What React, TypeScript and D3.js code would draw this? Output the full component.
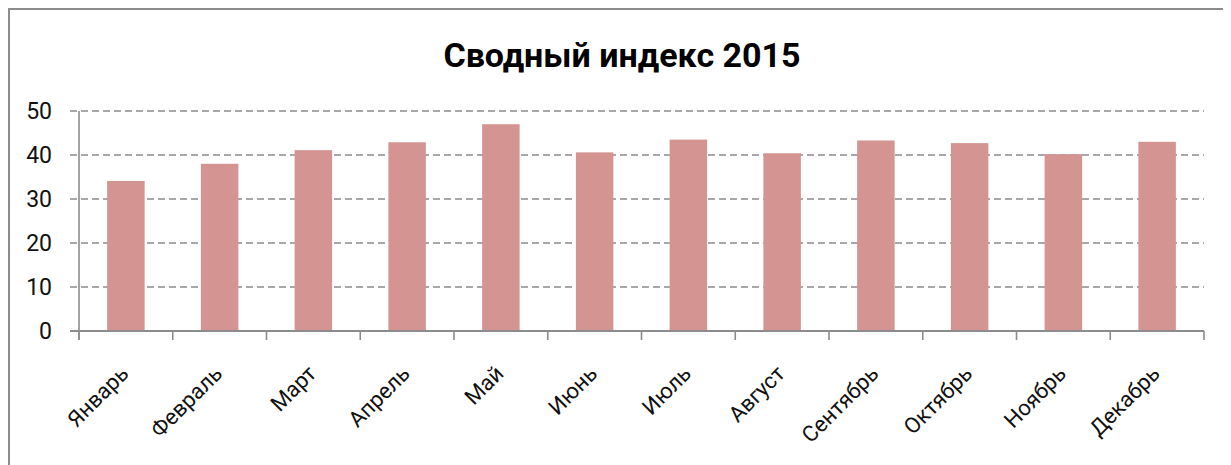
import React from "react";
import { scaleBand, scaleLinear } from "d3";

const months = [
  "Январь",
  "Февраль",
  "Март",
  "Апрель",
  "Май",
  "Июнь",
  "Июль",
  "Август",
  "Сентябрь",
  "Октябрь",
  "Ноябрь",
  "Декабрь",
];
const values = [34.1, 38.0, 41.1, 42.9, 47.0, 40.6, 43.5, 40.4, 43.3, 42.7, 40.2, 43.0];
const yTicks = [0, 10, 20, 30, 40, 50];
const title = "Сводный индекс 2015";

const W = 1223;
const H = 457;
const margin = { top: 103, right: 27, bottom: 134, left: 71 };

export default function App() {
  React.useEffect(() => {
    document.documentElement.style.overflow = "hidden";
  }, []);

  const x = scaleBand<string>()
    .domain(months)
    .range([margin.left, W - margin.right])
    .paddingInner(0.6)
    .paddingOuter(0.3);
  const step = x.step();
  const y = scaleLinear()
    .domain([0, 50])
    .range([H - margin.bottom, margin.top]);

  const font = "Roboto, 'Liberation Sans', sans-serif";
  const grey = "#8c8c8e";
  const edges = months.map((m) => (x(m) as number) - step * 0.3).concat([W - margin.right]);

  return (
    <svg width={W} height={H} style={{ display: "block" }} fontFamily={font}>
      {/* frame: only top and left edges show */}
      <line x1={0} x2={W} y1={1} y2={1} stroke={grey} strokeWidth={2} />
      <line x1={1} x2={1} y1={0} y2={H} stroke={grey} strokeWidth={2} />

      <text x={614} y={59} textAnchor="middle" fontSize={34} fontWeight="bold" fill="#000">
        {title}
      </text>

      {/* gridlines */}
      {yTicks
        .filter((t) => t > 0)
        .map((t) => (
          <line
            key={t}
            x1={margin.left - 9}
            x2={W - margin.right}
            y1={y(t)}
            y2={y(t)}
            stroke={grey}
            strokeWidth={1.6}
            strokeDasharray="7 4"
          />
        ))}

      {/* bars */}
      {months.map((m, i) => (
        <rect
          key={m}
          x={x(m)}
          y={y(values[i])}
          width={x.bandwidth()}
          height={y(0) - y(values[i])}
          fill="#d49592"
        />
      ))}

      {/* y axis */}
      <line x1={margin.left} x2={margin.left} y1={y(50)} y2={y(0) + 9} stroke={grey} strokeWidth={1.6} />
      <line x1={margin.left - 9} x2={W - margin.right} y1={y(0)} y2={y(0)} stroke={grey} strokeWidth={2} />
      {yTicks.map((t) => (
        <text key={t} x={44} y={y(t)} dy="0.36em" textAnchor="end" fontSize={23} fill="#111">
          {t}
        </text>
      ))}

      {/* x axis ticks */}
      {edges.map((e, i) => (
        <line key={i} x1={e} x2={e} y1={y(0)} y2={y(0) + 9} stroke={grey} strokeWidth={1.6} />
      ))}
      {months.map((m) => {
        const cx = (x(m) as number) + x.bandwidth() / 2 + 4;
        const cy = y(0) + 44;
        return (
          <text
            key={m}
            x={cx}
            y={cy}
            textAnchor="end"
            fontSize={22}
            fill="#111"
            transform={`rotate(-45, ${cx}, ${cy})`}
          >
            {m}
          </text>
        );
      })}
    </svg>
  );
}
